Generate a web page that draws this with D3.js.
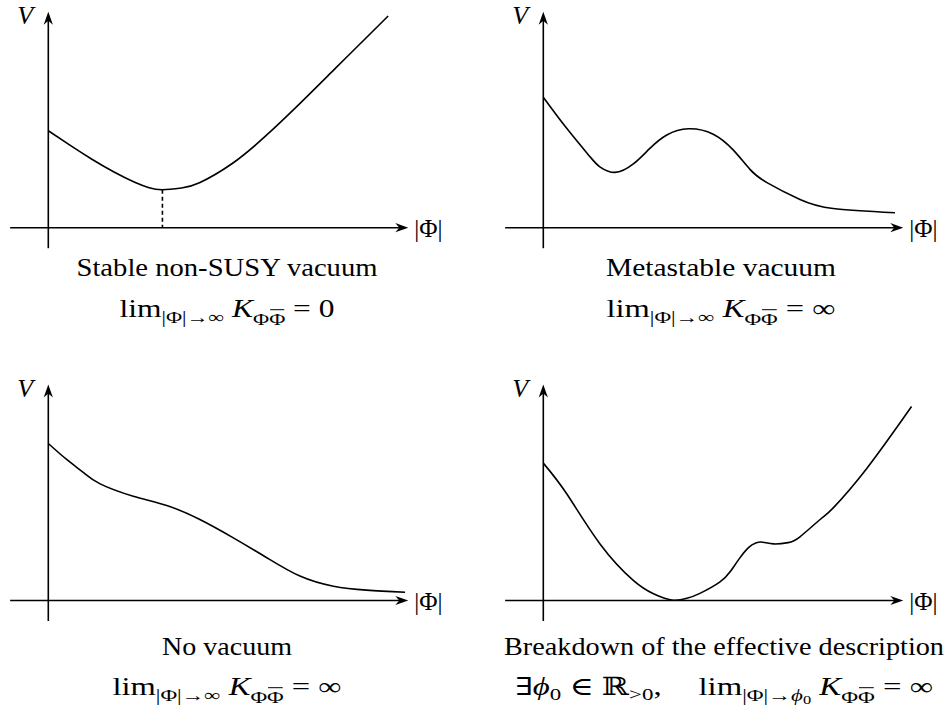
<!DOCTYPE html>
<html>
<head>
    <title>vacuum sketches</title>
    <script src="https://d3js.org/d3.v7.min.js"></script>
    <style>
        body { margin: 0; background: #fff; }
        text { font-family: "Liberation Serif", "DejaVu Serif", serif; fill: #000; }
    </style>
</head>
<body>
    <svg id="chart" width="948" height="709"></svg>

    <script>
// curves (x along |Phi|, V up), units 0..10 on each axis
var stableX = [0, 0.6, 1.2, 1.8, 2.4, 2.8, 3.17, 3.7, 4.2, 5.1, 6.0, 7.0, 8.0, 9.0, 9.44]
var stableV = [4.49, 3.82, 3.18, 2.6, 2.1, 1.85, 1.76, 1.84, 2.08, 2.96, 4.19, 5.77, 7.42, 9.07, 9.8]
var stableMin = 3.17

var metaX = [0, 0.65, 1.3, 1.57, 1.99, 2.5, 2.96, 3.43, 4.03, 4.72, 5.28, 5.74, 6.2, 7.13, 8.05, 9.77]
var metaV = [6.04, 4.6, 3.28, 2.82, 2.56, 2.95, 3.67, 4.29, 4.58, 4.33, 3.59, 2.7, 2.1, 1.31, 0.89, 0.69]

var novacX = [0, 0.51, 0.97, 1.44, 2.36, 3.29, 4.21, 5.14, 6.07, 6.99, 7.92, 8.84, 9.91]
var novacV = [7.27, 6.53, 5.93, 5.4, 4.83, 4.40, 3.75, 2.90, 1.98, 1.13, 0.66, 0.48, 0.38]

var breakX = [0, 0.65, 1.57, 2.5, 3.06, 3.57, 3.99, 4.35, 4.9, 5.2, 5.45, 5.7, 5.9, 6.1, 6.4, 6.8, 7.13, 7.69, 8.06, 8.98, 10.23]
var breakV = [6.36, 4.94, 2.63, 0.93, 0.31, 0.02, 0.1, 0.33, 0.85, 1.35, 1.95, 2.45, 2.66, 2.7, 2.62, 2.68, 2.95, 3.75, 4.3, 6.1, 8.98]

var titles = ["Stable non-SUSY vacuum", "Metastable vacuum", "No vacuum", "Breakdown of the effective description"]

// formula pieces: lv = 0 normal, 1 subscript, 2 sub-subscript
var limInf = [
    {t: "lim"}, {t: "|Φ|→∞", lv: 1, off: 0.24},
    {t: " "}, {t: "K", it: 1}, {t: "Φ", lv: 1, off: 0.3}, {t: "Φ", lv: 1, off: 0.3, bar: 1}
]
var formulas = [
    limInf.concat([{t: " = 0"}]),
    limInf.concat([{t: " = ∞"}]),
    limInf.concat([{t: " = ∞"}]),
    [
        {t: "∃"}, {t: "ϕ", it: 1}, {t: "0", lv: 1, off: 0.2}, {t: " ∈ "}, {t: "ℝ"}, {t: ">0", lv: 1, off: 0.2}, {t: ","},
        {t: "lim", dx: 28}, {t: "|Φ|→", lv: 1, off: 0.24}, {t: "ϕ", lv: 1, off: 0.24, it: 1}, {t: "0", lv: 2, off: 0.34},
        {t: " "}, {t: "K", it: 1}, {t: "Φ", lv: 1, off: 0.3}, {t: "Φ", lv: 1, off: 0.3, bar: 1}, {t: " = ∞"}
    ]
]

// caption layout: centre, baselines, stretched widths
var panels = [
    {ox: 48.3, oy: 227.7, xs: stableX, vs: stableV, cx: 227, ty: 276, fy: 317, tw: 301, fw: 215},
    {ox: 543.3, oy: 227.7, xs: metaX, vs: metaV, cx: 721, ty: 276, fy: 317, tw: 230, fw: 229},
    {ox: 48.3, oy: 600.5, xs: novacX, vs: novacV, cx: 227, ty: 655, fy: 695, tw: 130, fw: 229},
    {ox: 543.3, oy: 600.5, xs: breakX, vs: breakV, cx: 724, ty: 655, fy: 695, tw: 440, fw: 418}
]

var svg = d3.select("#chart")
var lw = 1.6
var fs = 25

function arrowHead(g, x, y, angle) {
    g.append("path")
        .attr("d", "M0,0 L-13,-4.6 L-9,0 L-13,4.6 Z")
        .attr("transform", "translate(" + x + "," + y + ") rotate(" + angle + ")")
        .attr("fill", "#000")
}

function mathLine(g, x, y, segs, size, width) {
    var text = g.append("text")
        .attr("x", x).attr("y", y)
        .attr("text-anchor", "middle")
        .attr("font-size", size)
        .attr("textLength", width)
        .attr("lengthAdjust", "spacingAndGlyphs")
        .style("white-space", "pre")
    var cur = 0
    segs.forEach(function (s) {
        var lv = s.lv || 0
        var off = (s.off || 0) * size
        var ts = text.append("tspan")
            .text(s.t)
            .attr("dy", off - cur)
            .attr("font-size", [1, 0.7, 0.5][lv] * size)
        if (s.it) ts.attr("font-style", "italic")
        if (s.dx) ts.attr("dx", s.dx)
        if (s.bar) ts.classed("bar", true)
        cur = off
    })
    // overlines for conjugated fields
    text.selectAll("tspan.bar").each(function () {
        var e = this.getExtentOfChar(0)
        var yy = e.y + e.height * 0.06
        g.append("line")
            .attr("x1", e.x + 1).attr("x2", e.x + e.width - 1)
            .attr("y1", yy).attr("y2", yy)
            .attr("stroke", "#000").attr("stroke-width", 1)
    })
}

panels.forEach(function (p, i) {
    var x = d3.scaleLinear().domain([0, 10]).range([p.ox, p.ox + 360])
    var y = d3.scaleLinear().domain([0, 10]).range([p.oy, p.oy - 216])
    var g = svg.append("g")

    // axes
    g.append("line")
        .attr("x1", x(-1.06)).attr("x2", x(10) - 8)
        .attr("y1", y(0)).attr("y2", y(0))
        .attr("stroke", "#000").attr("stroke-width", lw)
    arrowHead(g, x(10), y(0), 0)
    g.append("line")
        .attr("x1", x(0)).attr("x2", x(0))
        .attr("y1", y(-0.95)).attr("y2", y(10) + 8)
        .attr("stroke", "#000").attr("stroke-width", lw)
    arrowHead(g, x(0), y(10), -90)

    g.append("text")
        .attr("x", x(0) - 31).attr("y", y(10) + 12)
        .attr("font-size", 26).attr("font-style", "italic")
        .text("V")
    g.append("text")
        .attr("x", x(10) + 6).attr("y", y(0) + 9)
        .attr("font-size", 25)
        .text("|Φ|")

    // potential
    var pts = p.xs.map(function (d, j) { return [d, p.vs[j]] })
    var line = d3.line()
        .x(function (d) { return x(d[0]) })
        .y(function (d) { return y(d[1]) })
        .curve(d3.curveNatural)
    g.append("path")
        .attr("d", line(pts))
        .attr("fill", "none")
        .attr("stroke", "#000")
        .attr("stroke-width", lw)

    if (i == 0) {
        var k = stableX.indexOf(stableMin)
        g.append("line")
            .attr("x1", x(stableMin)).attr("x2", x(stableMin))
            .attr("y1", y(stableV[k])).attr("y2", y(0))
            .attr("stroke", "#000").attr("stroke-width", lw)
            .attr("stroke-dasharray", "4,3")
    }

    // captions
    g.append("text")
        .attr("x", p.cx).attr("y", p.ty)
        .attr("text-anchor", "middle")
        .attr("font-size", fs)
        .attr("textLength", p.tw)
        .attr("lengthAdjust", "spacingAndGlyphs")
        .text(titles[i])
    mathLine(g, p.cx, p.fy, formulas[i], fs, p.fw)
})
    </script>
</body>
</html>
